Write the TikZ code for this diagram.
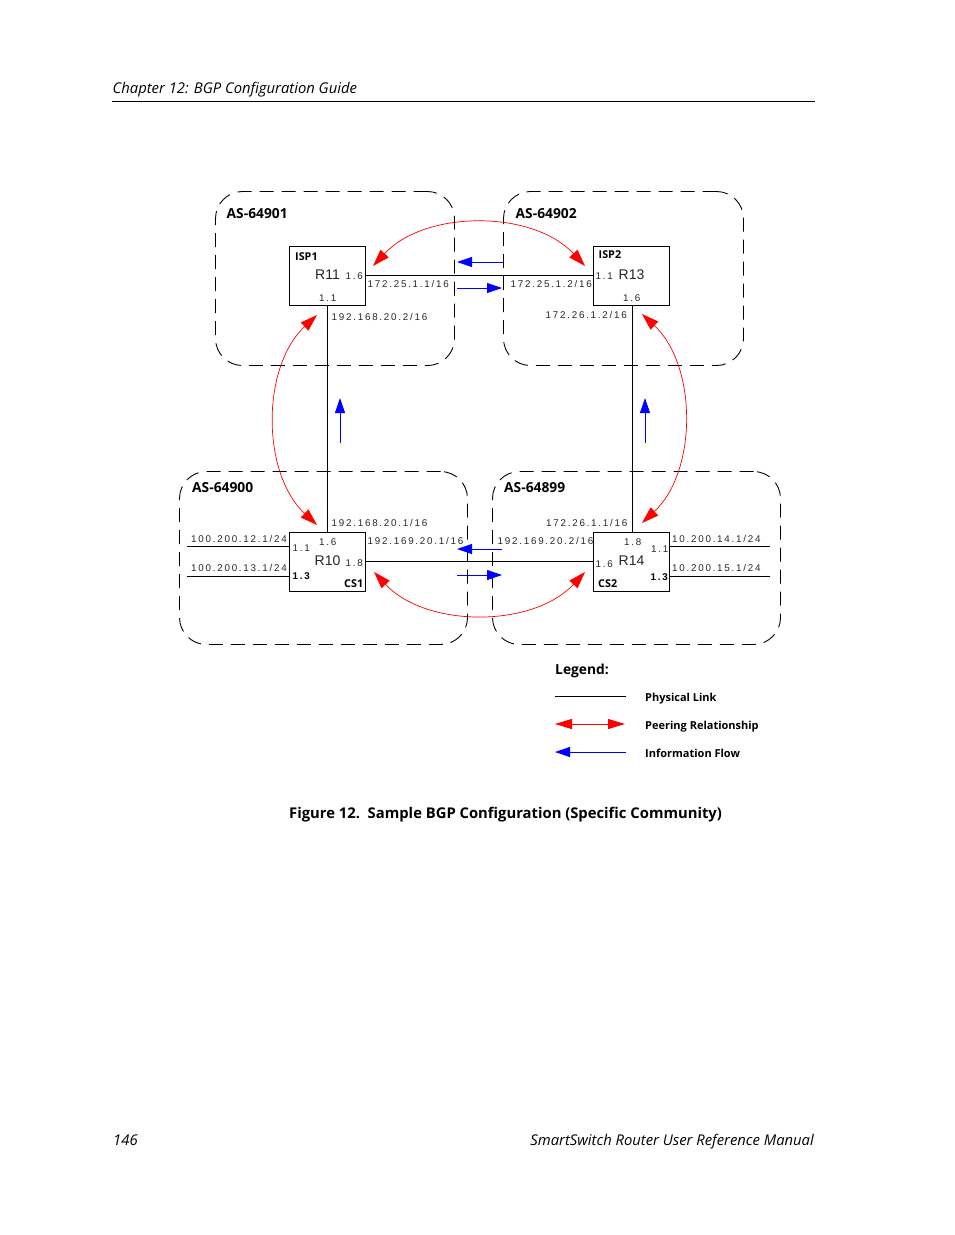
\documentclass[tikz,border=0pt]{standalone}
\usepackage{fontspec}
\usetikzlibrary{arrows.meta}
\setmainfont{Open Sans}
\newfontfamily\labelfont[LetterSpace=18]{Liberation Sans}
\newfontfamily\routerfont{Liberation Sans}
\tikzset{
  asbox/.style={draw=black,line width=0.9pt,rounded corners=27pt,dash pattern=on 14pt off 8pt,inner sep=0pt},
  routerbox/.style={draw=black,line width=0.9pt,minimum width=76pt,minimum height=59pt,inner sep=0pt},
  link/.style={draw=black,line width=0.9pt},
  peer/.style={draw=red,line width=0.7pt,looseness=0.93,{Triangle[length=17pt,width=11pt]}-{Triangle[length=17pt,width=11pt]}},
  peerboth/.style={draw=red,line width=0.9pt,fill=red,{Triangle[length=17pt,width=10pt]}-{Triangle[length=17pt,width=10pt]}},
  flow/.style={draw=blue,line width=0.9pt,fill=blue,-{Triangle[length=15pt,width=10pt]}},
  iface/.style={anchor=base west,inner sep=0pt,font=\labelfont\fontsize{9.8}{11}\selectfont,text=black!85},
  ifacebold/.style={anchor=base west,inner sep=0pt,font=\labelfont\bfseries\fontsize{9.8}{11}\selectfont},
  rname/.style={anchor=base west,inner sep=0pt,font=\routerfont\fontsize{14}{16}\selectfont,text=black!85},
  asname/.style={anchor=base west,inner sep=0pt,font=\bfseries\fontsize{13.8}{15}\selectfont},
  tagname/.style={anchor=base west,inner sep=0pt,font=\bfseries\fontsize{10.8}{12}\selectfont},
  legendtext/.style={anchor=base west,inner sep=0pt,font=\bfseries\fontsize{11}{12}\selectfont},
  pagetext/.style={anchor=base west,inner sep=0pt,font=\itshape\fontsize{14.8}{16}\selectfont}
}
\begin{document}
\begin{tikzpicture}[x=1pt,y=-1pt]
\useasboundingbox (0,0) rectangle (954,1235);
\node[pagetext] (chapter) at (112.5,93) {Chapter 12: BGP Configuration Guide};
\coordinate (ruleL) at (112,101);
\coordinate (ruleR) at (815,101);
\draw[link] (ruleL)--(ruleR);
\node[asbox,minimum width=239pt,minimum height=174pt] (as64901) at (335,278.5) {};
\node[asbox,minimum width=240pt,minimum height=174pt] (as64902) at (623.5,278.5) {};
\node[asbox,minimum width=288pt,minimum height=173pt] (as64900) at (323.5,558) {};
\node[asbox,minimum width=288pt,minimum height=173pt] (as64899) at (636.5,558) {};
\node[asname] (as901) at (226.5,218) {AS-64901};
\node[asname] (as902) at (515.5,218) {AS-64902};
\node[asname] (as900) at (192,492.7) {AS-64900};
\node[asname] (as899) at (504,492.7) {AS-64899};
\node[routerbox] (r11) at (327.5,275.5) {};
\node[routerbox] (r13) at (631.5,275.5) {};
\node[routerbox] (r10) at (327.5,561.5) {};
\node[routerbox] (r14) at (631.5,561.5) {};
\draw[link] (r11)--(r13);
\draw[link] (r11)--(r10);
\draw[link] ([xshift=0.8pt]r13.south)--([xshift=0.8pt]r14.north);
\draw[link] (r10)--(r14);
\coordinate (stubA) at (187,546);
\coordinate (stubB) at (187,576);
\coordinate (stubC) at (770,546);
\coordinate (stubD) at (770,576);
\draw[link] (stubA)--(stubA-|r10.west);
\draw[link] (stubB)--(stubB-|r10.west);
\draw[link] (stubC)--(stubC-|r14.east);
\draw[link] (stubD)--(stubD-|r14.east);
\coordinate (topL) at (373,266);
\coordinate (topR) at (585,266);
\coordinate (botL) at (374,572);
\coordinate (botR) at (585,572);
\coordinate (leftT) at (317,315);
\coordinate (leftB) at (317,525);
\coordinate (rightT) at (642,314);
\coordinate (rightB) at (642,523);
\draw[peer] (topL) to[out=47,in=133] (topR);
\draw[peer] (botL) to[out=-47,in=-133] (botR);
\draw[peer] (leftT) to[out=-137,in=137] (leftB);
\draw[peer] (rightT) to[out=-43,in=43] (rightB);
\coordinate (flowAs) at (503,262);
\coordinate (flowAe) at (457,262);
\coordinate (flowBs) at (457,288);
\coordinate (flowBe) at (502,288);
\coordinate (flowCs) at (340,443);
\coordinate (flowCe) at (340,398);
\coordinate (flowDs) at (645,443);
\coordinate (flowDe) at (645,398);
\coordinate (flowEs) at (502,549);
\coordinate (flowEe) at (457,549);
\coordinate (flowFs) at (457,575);
\coordinate (flowFe) at (502,575);
\draw[flow] (flowAs)--(flowAe);
\draw[flow] (flowBs)--(flowBe);
\draw[flow] (flowCs)--(flowCe);
\draw[flow] (flowDs)--(flowDe);
\draw[flow] (flowEs)--(flowEe);
\draw[flow] (flowFs)--(flowFe);
\node[tagname] (isp1) at (295,260) {ISP1};
\node[rname] (n11) at (315,279) {R11};
\node[iface] (p116) at (345.5,279.5) {1.6};
\node[iface] (p111) at (319,301) {1.1};
\node[iface] (ip251) at (367.5,287) {172.25.1.1/16};
\node[iface] (ip202) at (331.5,320) {192.168.20.2/16};
\node[tagname] (isp2) at (598.5,258) {ISP2};
\node[rname] (n13) at (618.5,279) {R13};
\node[iface] (p131) at (595.5,279) {1.1};
\node[iface] (p136) at (623,301) {1.6};
\node[iface] (ip252) at (510.5,287) {172.25.1.2/16};
\node[iface] (ip262) at (545.5,318) {172.26.1.2/16};
\node[tagname] (cs1) at (344,587) {CS1};
\node[rname] (n10) at (314.5,565) {R10};
\node[iface] (p106) at (319,545) {1.6};
\node[iface] (p101) at (292.5,551) {1.1};
\node[iface] (p108) at (345.5,566.7) {1.8};
\node[ifacebold] (p103) at (292.5,579) {1.3};
\node[iface] (ip201) at (331.5,526) {192.168.20.1/16};
\node[iface] (ip691) at (367.5,544) {192.169.20.1/16};
\node[iface] (ip121) at (191,542) {100.200.12.1/24};
\node[iface] (ip131) at (191,571.7) {100.200.13.1/24};
\node[tagname] (cs2) at (598,587) {CS2};
\node[rname] (n14) at (618.5,565) {R14};
\node[iface] (p148) at (624,545) {1.8};
\node[iface] (p141) at (651,552) {1.1};
\node[iface] (p146) at (595.5,567) {1.6};
\node[ifacebold] (p143) at (650.5,580) {1.3};
\node[iface] (ip261) at (546,526) {172.26.1.1/16};
\node[iface] (ip692) at (497.5,544) {192.169.20.2/16};
\node[iface] (ip141) at (672,542) {10.200.14.1/24};
\node[iface] (ip151) at (672,571) {10.200.15.1/24};
\node[asname] (legend) at (555,674) {Legend:};
\coordinate (legAs) at (555,696.5);
\coordinate (legAe) at (626,696.5);
\coordinate (legBs) at (555,724);
\coordinate (legBe) at (625,724);
\coordinate (legCs) at (626,752);
\coordinate (legCe) at (555,752);
\draw[link] (legAs)--(legAe);
\draw[peerboth] (legBs)--(legBe);
\draw[flow] (legCs)--(legCe);
\node[legendtext] (legA) at (645,701) {Physical Link};
\node[legendtext] (legB) at (645,729) {Peering Relationship};
\node[legendtext] (legC) at (645,757) {Information Flow};
\node[anchor=base west,inner sep=0pt,font=\bfseries\fontsize{14.8}{17}\selectfont] (caption) at (289,818) {Figure 12.\ \ Sample BGP Configuration (Specific Community)};
\node[pagetext] (pagenum) at (113,1145) {146};
\node[pagetext,anchor=base east] (manual) at (814,1145) {SmartSwitch Router User Reference Manual};
\end{tikzpicture}
\end{document}
